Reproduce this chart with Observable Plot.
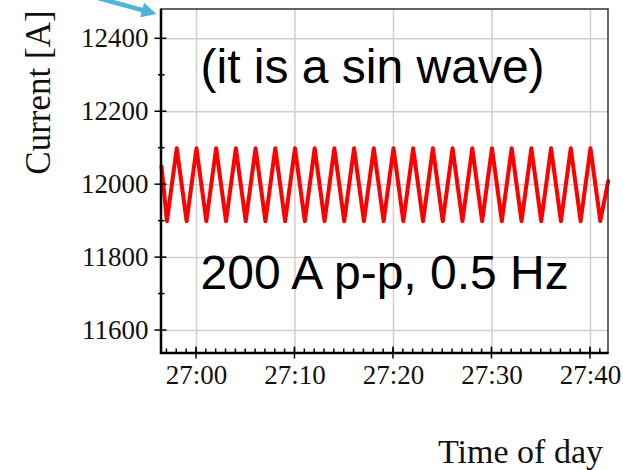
<!DOCTYPE html>
<html>
<head>
<meta charset="utf-8">
<script src="https://cdn.jsdelivr.net/npm/d3@7"></script>
<script src="https://cdn.jsdelivr.net/npm/@observablehq/plot@0.6"></script>
<style>
  html, body { margin: 0; padding: 0; background: #fff; }
  #chart svg { display: block; }
</style>
</head>
<body>
<div id="chart"></div>
<script>
// Magnet current, one sample per second (time in seconds past the hour)
const seconds = [1616.45, 1617, 1618, 1619, 1620, 1621, 1622, 1623, 1624, 1625, 1626,
  1627, 1628, 1629, 1630, 1631, 1632, 1633, 1634, 1635, 1636, 1637, 1638, 1639, 1640,
  1641, 1642, 1643, 1644, 1645, 1646, 1647, 1648, 1649, 1650, 1651, 1652, 1653, 1654,
  1655, 1656, 1657, 1658, 1659, 1660, 1661, 1661.8];
const current = [12050, 11900, 12100, 11900, 12100, 11900, 12100, 11900, 12100, 11900, 12100,
  11900, 12100, 11900, 12100, 11900, 12100, 11900, 12100, 11900, 12100, 11900, 12100, 11900, 12100,
  11900, 12100, 11900, 12100, 11900, 12100, 11900, 12100, 11900, 12100, 11900, 12100, 11900, 12100,
  11900, 12100, 11900, 12100, 11900, 12100, 11900, 12010];

// Axis ticks
const xTicks = [1620, 1630, 1640, 1650, 1660];
const xTickLabels = ["27:00", "27:10", "27:20", "27:30", "27:40"];
const xMinorTicks = d3.range(1617, 1662);
const yTicks = [11600, 11800, 12000, 12200, 12400];
const yTickLabels = ["11600", "11800", "12000", "12200", "12400"];
const yMinorTicks = [11700, 11900, 12100, 12300];

// Texts
const xTitle = "Time of day";
const yTitle = "Current [A]";
const noteTop = "(it is a sin wave)";
const noteBottom = "200 A p-p, 0.5 Hz";

// Callout arrow pointing at the top-left corner of the plot
const pointer = { from: [1609.7, 12513], to: [1616.0, 12467] };

const serif = "Liberation Serif, Times New Roman, Times, serif";
const sans = "Liberation Sans, Arial, Helvetica, sans-serif";

// Frame, tick marks, axis titles and the callout arrow, drawn with the plot's scales
function decorations(index, scales, values, dims) {
  const X = scales.x, Y = scales.y;
  const x0 = dims.marginLeft, x1 = dims.width - dims.marginRight;
  const y0 = dims.marginTop, y1 = dims.height - dims.marginBottom;
  const g = d3.create("svg:g");

  // top and right edges (thin), left and bottom axes (thick)
  g.append("path").attr("d", `M${x0},${y0}H${x1}V${y1}`)
    .attr("fill", "none").attr("stroke", "#333").attr("stroke-width", 1.5);
  g.append("path").attr("d", `M${x0},${y0 - 0.5}V${y1}H${x1 + 0.7}`)
    .attr("fill", "none").attr("stroke", "#000").attr("stroke-width", 2.5);

  const ticks = g.append("g").attr("stroke", "#000").attr("stroke-width", 1.5);
  for (const v of yTicks) ticks.append("line")
    .attr("x1", x0 - 6.5).attr("x2", x0 + 5.5).attr("y1", Y(v)).attr("y2", Y(v));
  for (const v of yMinorTicks) ticks.append("line")
    .attr("x1", x0 - 3).attr("x2", x0 + 3.5).attr("y1", Y(v)).attr("y2", Y(v));
  for (const v of xMinorTicks) ticks.append("line")
    .attr("x1", X(v)).attr("x2", X(v)).attr("y1", y1 - 4.5).attr("y2", y1);
  for (const v of xTicks) ticks.append("line")
    .attr("x1", X(v)).attr("x2", X(v)).attr("y1", y1 - 6.5).attr("y2", y1 + 5.5);

  g.append("text").text(yTitle)
    .attr("transform", `translate(50,92.5) rotate(-90)`)
    .attr("text-anchor", "middle")
    .attr("font-family", serif).attr("font-size", 35).attr("fill", "#111");
  g.append("text").text(xTitle)
    .attr("x", 603).attr("y", 463)
    .attr("text-anchor", "end")
    .attr("font-family", serif).attr("font-size", 34).attr("fill", "#111");

  // callout arrow
  const [ax, ay] = [X(pointer.from[0]), Y(pointer.from[1])];
  const [bx, by] = [X(pointer.to[0]), Y(pointer.to[1])];
  const len = Math.hypot(bx - ax, by - ay), ux = (bx - ax) / len, uy = (by - ay) / len;
  const head = 15, half = 7.5;
  const hx = bx - ux * head, hy = by - uy * head;
  const blue = "#4fb4da";
  g.append("line").attr("x1", ax).attr("y1", ay).attr("x2", hx + ux * 2).attr("y2", hy + uy * 2)
    .attr("stroke", blue).attr("stroke-width", 4.5);
  g.append("path")
    .attr("d", `M${bx},${by}L${hx - uy * half},${hy + ux * half}L${hx + uy * half},${hy - ux * half}Z`)
    .attr("fill", blue);
  return g.node();
}

const chart = Plot.plot({
  width: 623,
  height: 470,
  marginLeft: 161,
  marginRight: 15,
  marginTop: 9,
  marginBottom: 117,
  style: { background: "#fff", color: "#111", fontFamily: serif },
  x: { domain: [1616.45, 1661.83], axis: null },
  y: { domain: [11537, 12480.4], axis: null },
  marks: [
    Plot.gridX(xTicks, { stroke: "#cfcfcf", strokeOpacity: 1, strokeWidth: 1.5 }),
    Plot.gridY(yTicks, { stroke: "#cfcfcf", strokeOpacity: 1, strokeWidth: 1.5 }),
    Plot.line(seconds, { x: seconds, y: current, stroke: "#ff0000", strokeWidth: 4, strokeLinejoin: "round", strokeLinecap: "round" }),
    // tick labels
    Plot.text(xTicks, { x: (d) => d, text: (d, i) => xTickLabels[i], frameAnchor: "bottom", lineAnchor: "top", dy: 11, fontFamily: serif, fontSize: 27, fill: "#111" }),
    Plot.text(yTicks, { y: (d) => d, text: (d, i) => yTickLabels[i], frameAnchor: "left", textAnchor: "end", lineAnchor: "middle", dx: -13, fontFamily: serif, fontSize: 27, fill: "#111" }),
    // annotations
    Plot.text([noteTop], { text: (d) => d, frameAnchor: "top-left", dx: 39, dy: 73.7, textAnchor: "start", lineAnchor: "bottom", fontFamily: sans, fontSize: 48, fill: "#000" }),
    Plot.text([noteBottom], { text: (d) => d, frameAnchor: "top-left", dx: 39, dy: 279.3, textAnchor: "start", lineAnchor: "bottom", fontFamily: sans, fontSize: 48, fill: "#000" }),
    decorations
  ]
});

document.getElementById("chart").append(chart);
</script>
</body>
</html>
